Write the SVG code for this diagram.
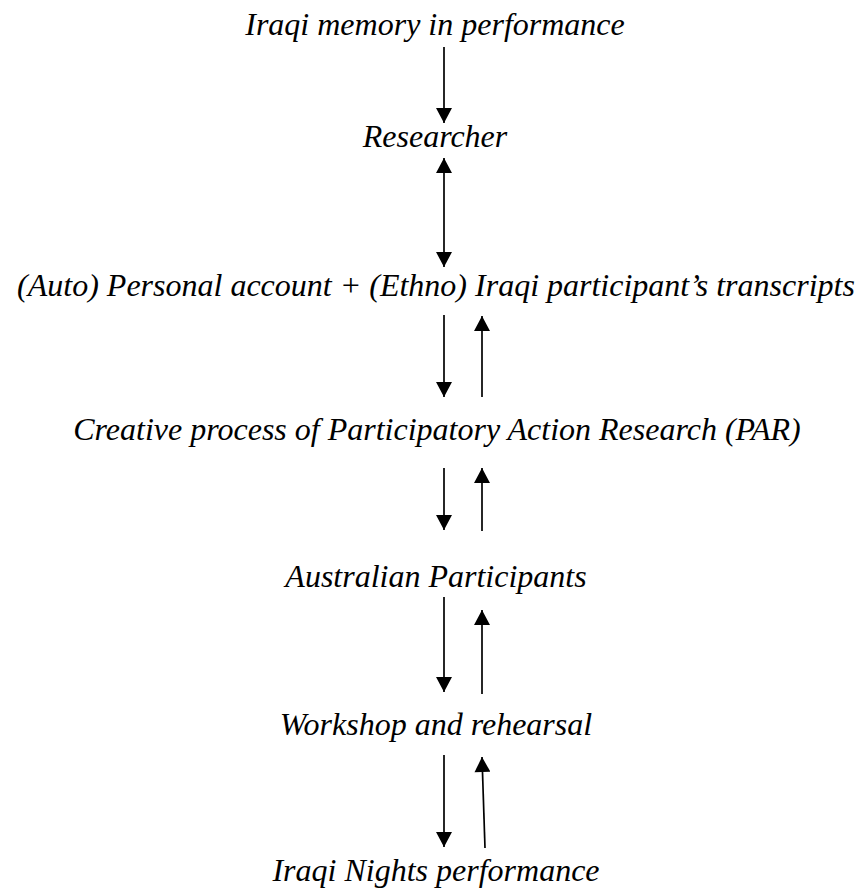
<svg xmlns="http://www.w3.org/2000/svg" width="863" height="893" viewBox="0 0 863 893">
<style>
.t{font-family:"Liberation Serif","Times New Roman",serif;font-style:italic;font-size:32px;fill:#000;text-anchor:middle}
.c{stroke:#000;stroke-width:1.7;fill:none}
</style>
<defs>
<marker id="ah" markerUnits="userSpaceOnUse" markerWidth="16" markerHeight="16" viewBox="0 0 15 16" refX="15" refY="8" orient="auto-start-reverse">
<path d="M0,0 L15,8 L0,16 z" fill="#000"/>
</marker>
</defs>
<rect width="863" height="893" fill="#fff"/>
<g id="n1"><text class="t" x="435" y="35">Iraqi memory in performance</text></g>
<g id="n2"><text class="t" x="435" y="147">Researcher</text></g>
<g id="n3"><text class="t" x="436" y="296">(Auto) Personal account + (Ethno) Iraqi participant’s transcripts</text></g>
<g id="n4"><text class="t" x="437" y="440">Creative process of Participatory Action Research (PAR)</text></g>
<g id="n5"><text class="t" x="436" y="587">Australian Participants</text></g>
<g id="n6"><text class="t" x="436" y="735">Workshop and rehearsal</text></g>
<g id="n7"><text class="t" x="436" y="881">Iraqi Nights performance</text></g>
<g id="connectors">
<line class="c" x1="444" y1="47" x2="444" y2="123" marker-end="url(#ah)"/>
<line class="c" x1="444" y1="158" x2="444" y2="267" marker-start="url(#ah)" marker-end="url(#ah)"/>
<line class="c" x1="444" y1="315" x2="444" y2="397" marker-end="url(#ah)"/>
<line class="c" x1="482" y1="397" x2="482" y2="316" marker-end="url(#ah)"/>
<line class="c" x1="444" y1="468" x2="444" y2="530" marker-end="url(#ah)"/>
<line class="c" x1="482" y1="531" x2="482" y2="468" marker-end="url(#ah)"/>
<line class="c" x1="444" y1="597" x2="444" y2="692" marker-end="url(#ah)"/>
<line class="c" x1="482" y1="694" x2="482" y2="610" marker-end="url(#ah)"/>
<line class="c" x1="444" y1="755" x2="444" y2="847" marker-end="url(#ah)"/>
<line class="c" x1="485" y1="848" x2="482" y2="757" marker-end="url(#ah)"/>
</g>
</svg>
